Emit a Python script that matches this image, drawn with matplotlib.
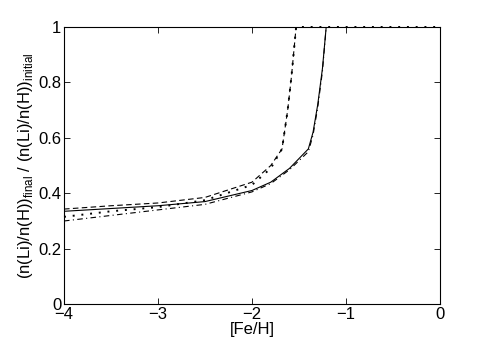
import numpy as np
import matplotlib
matplotlib.use('Agg')
import matplotlib.pyplot as plt

plt.rcParams['font.family'] = ['Liberation Sans', 'DejaVu Sans']
plt.rcParams['mathtext.fontset'] = 'custom'
plt.rcParams['mathtext.rm'] = 'Liberation Sans'

# [Fe/H] grid and ratio curves
feh_solid = [-4.0, -3.5, -3.0, -2.5, -2.0, -1.8, -1.6, -1.4, -1.35, -1.3, -1.25, -1.21, 0.0]
li_solid = [0.335, 0.345, 0.355, 0.37, 0.41, 0.44, 0.49, 0.56, 0.62, 0.72, 0.85, 1.0, 1.0]

feh_dash = [-4.0, -3.5, -3.0, -2.5, -2.0, -1.8, -1.68, -1.62, -1.58, -1.53, 0.0]
li_dash = [0.343, 0.355, 0.365, 0.385, 0.44, 0.50, 0.56, 0.70, 0.82, 1.0, 1.0]

feh_dot = [-4.0, -3.5, -3.0, -2.5, -2.0, -1.8, -1.68, -1.62, -1.58, -1.53, 0.0]
li_dot = [0.315, 0.335, 0.35, 0.375, 0.43, 0.49, 0.56, 0.70, 0.82, 1.0, 1.0]

feh_dashdot = [-4.0, -3.5, -3.0, -2.5, -2.0, -1.8, -1.6, -1.4, -1.35, -1.3, -1.25, -1.21, 0.0]
li_dashdot = [0.30, 0.32, 0.34, 0.36, 0.405, 0.435, 0.485, 0.55, 0.61, 0.71, 0.84, 1.0, 1.0]

fig = plt.figure(figsize=(4.85, 3.46), dpi=100)
ax = fig.add_axes([0.132, 0.121, 0.775, 0.801])

ax.plot(feh_solid, li_solid, 'k-', lw=0.8)
ax.plot(feh_dash, li_dash, 'k--', lw=0.8, dashes=(5, 3))
ax.plot(feh_dot, li_dot, 'k:', lw=1.4, dashes=(1, 3.5), clip_on=False, zorder=5)
ax.plot(feh_dashdot, li_dashdot, 'k-.', lw=0.8, dashes=(5, 3, 1, 3))

ax.set_xlim(-4, 0)
ax.set_ylim(0, 1)
ax.set_xticks([-4, -3, -2, -1, 0])
ax.set_xticklabels(['\u22124', '\u22123', '\u22122', '\u22121', '0'])
ax.set_yticks([0, 0.2, 0.4, 0.6, 0.8, 1])
ax.set_yticklabels(['0', '0.2', '0.4', '0.6', '0.8', '1'])
ax.tick_params(direction='in', top=True, right=True, labelsize=12, length=4, width=0.6, pad=2)
for s in ax.spines.values():
    s.set_linewidth(0.8)

ax.set_xlabel('[Fe/H]', fontsize=12, labelpad=0)
ax.set_ylabel(r'(n(Li)/n(H))$_{\mathrm{final}}$ / (n(Li)/n(H))$_{\mathrm{initial}}$', fontsize=12, labelpad=2)

fig.savefig('out.png', dpi=100)
